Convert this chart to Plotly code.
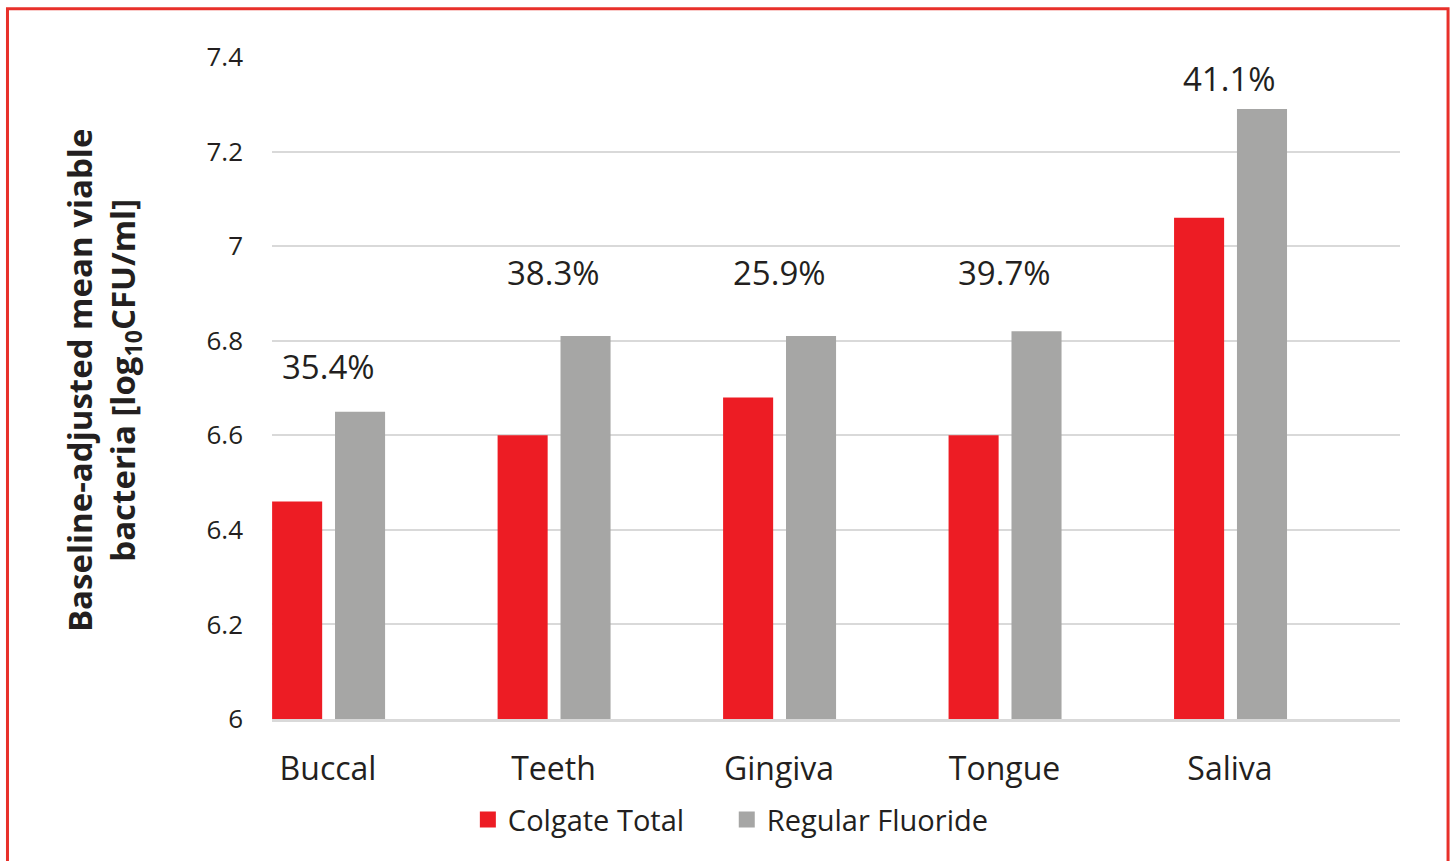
import plotly.graph_objects as go

categories = ["Buccal", "Teeth", "Gingiva", "Tongue", "Saliva"]
series_names = ["Colgate Total", "Regular Fluoride"]
colgate_total = [6.46, 6.60, 6.68, 6.60, 7.06]
regular_fluoride = [6.65, 6.81, 6.81, 6.82, 7.29]
reduction_labels = ["35.4%", "38.3%", "25.9%", "39.7%", "41.1%"]
label_y = [6.746, 6.944, 6.944, 6.944, 7.354]
y_ticks = [6, 6.2, 6.4, 6.6, 6.8, 7, 7.2, 7.4]
y_tick_text = ["6", "6.2", "6.4", "6.6", "6.8", "7", "7.2", "7.4"]

FONT = "Open Sans"
TXT = "#231f20"
RED = "#ed1c24"
GRAY = "#a6a6a5"

x_idx = list(range(len(categories)))
bar_w = 0.222

fig = go.Figure()
fig.add_trace(go.Bar(
    x=x_idx, y=colgate_total, name=series_names[0],
    marker=dict(color=RED, line=dict(width=0)),
    width=bar_w, offset=-0.248, showlegend=False,
))
fig.add_trace(go.Bar(
    x=x_idx, y=regular_fluoride, name=series_names[1],
    marker=dict(color=GRAY, line=dict(width=0)),
    width=bar_w, offset=0.031, showlegend=False,
))
# legend entries with larger square swatches
fig.add_trace(go.Scatter(x=[None], y=[None], mode="markers",
                         name=series_names[0] + "\u00a0" * 5,
                         marker=dict(symbol="square", size=19, color=RED)))
fig.add_trace(go.Scatter(x=[None], y=[None], mode="markers",
                         name=series_names[1],
                         marker=dict(symbol="square", size=19, color=GRAY)))

for i, (t, yy) in enumerate(zip(reduction_labels, label_y)):
    fig.add_annotation(x=i, y=yy, text=t, showarrow=False,
                       xanchor="center", yanchor="middle",
                       font=dict(family=FONT, size=33, color=TXT))

# y-axis title as rotated annotation
fig.add_annotation(
    xref="paper", yref="paper", x=-0.1498, y=0.512,
    text="<b>Baseline-adjusted mean viable<br>bacteria [log<sub>10</sub>CFU/ml]</b>",
    textangle=-90, showarrow=False, xanchor="center", yanchor="middle",
    font=dict(family=FONT, size=33, color=TXT),
)

# outer red border
fig.add_shape(type="rect", xref="paper", yref="paper",
              x0=-0.2345, x1=1.0426, y0=-0.25, y1=1.073,
              line=dict(color="#e8302a", width=3), fillcolor="rgba(0,0,0,0)",
              layer="above")

fig.update_layout(
    width=1453, height=861,
    margin=dict(l=272, r=53, t=57, b=142, autoexpand=False),
    paper_bgcolor="white", plot_bgcolor="white",
    barmode="overlay",
    showlegend=True,
    legend=dict(orientation="h", xref="container", yref="container",
                x=0.503, y=0.048, xanchor="center", yanchor="middle",
                font=dict(family=FONT, size=29, color=TXT),
                itemsizing="trace", traceorder="normal"),
    font=dict(family=FONT, color=TXT),
)
fig.update_xaxes(
    tickmode="array", tickvals=x_idx, ticktext=categories,
    range=[-0.2485, 4.754], showgrid=False, automargin=False,
    showline=True, linecolor="#d9d9d9", linewidth=3,
    ticks="", ticklabelstandoff=20,
    tickfont=dict(family=FONT, size=32, color=TXT),
)
fig.update_yaxes(
    range=[6, 7.4], tickmode="array", tickvals=y_ticks, ticktext=y_tick_text,
    showgrid=True, gridcolor="#d9d9d9", gridwidth=2, zeroline=False,
    automargin=False, ticks="", ticklabelstandoff=28,
    tickfont=dict(family=FONT, size=26, color=TXT),
)

fig.write_html("out.html")
